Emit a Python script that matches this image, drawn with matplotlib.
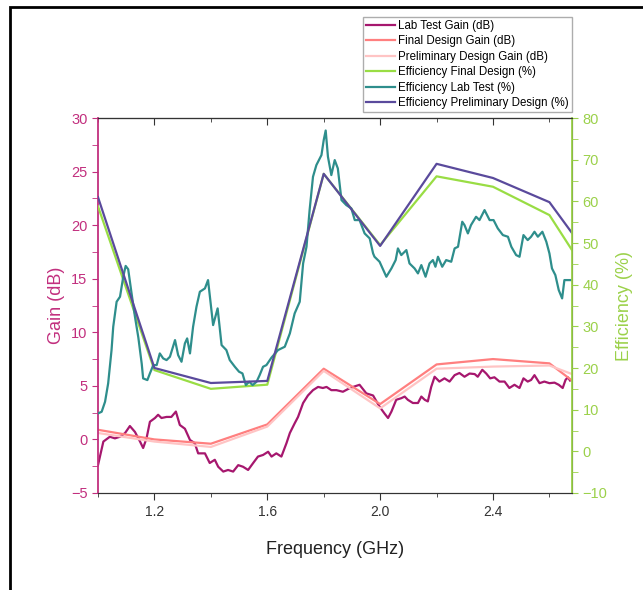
import matplotlib
matplotlib.use("Agg")
import matplotlib.pyplot as plt
from matplotlib.patches import Rectangle
from matplotlib.ticker import MultipleLocator

plt.rcParams['font.family'] = ['Liberation Sans', 'DejaVu Sans']

# Design frequencies (GHz)
design_freq = [1.0, 1.2, 1.4, 1.6, 1.8, 2.0, 2.2, 2.4, 2.6, 2.68]

final_gain = [0.9, 0.0, -0.4, 1.4, 6.6, 3.3, 7.0, 7.5, 7.1, 5.5]
prelim_gain = [0.6, -0.2, -0.7, 1.2, 6.4, 2.9, 6.6, 6.8, 6.9, 6.1]
eff_final = [58.8, 19.5, 15.0, 16.0, 66.6, 49.5, 66.0, 63.5, 56.7, 48.3]
eff_prelim = [61.0, 20.0, 16.4, 16.9, 66.6, 49.3, 69.0, 65.6, 59.8, 52.4]

# Measured gain
lab_gain_freq = [1.0, 1.019, 1.042, 1.06, 1.078, 1.096, 1.113, 1.131, 1.149, 1.16,
                 1.172, 1.184, 1.202, 1.213, 1.225, 1.243, 1.26, 1.276, 1.29, 1.308,
                 1.326, 1.343, 1.355, 1.379, 1.396, 1.414, 1.426, 1.444, 1.461, 1.479,
                 1.497, 1.514, 1.532, 1.55, 1.567, 1.585, 1.603, 1.615, 1.632, 1.65,
                 1.668, 1.68, 1.697, 1.709, 1.727, 1.744, 1.762, 1.78, 1.797, 1.81,
                 1.827, 1.845, 1.868, 1.886, 1.904, 1.927, 1.951, 1.975, 1.998, 2.016,
                 2.028, 2.04, 2.057, 2.075, 2.087, 2.098, 2.116, 2.134, 2.146, 2.158,
                 2.169, 2.181, 2.193, 2.21, 2.228, 2.246, 2.264, 2.281, 2.299, 2.317,
                 2.335, 2.346, 2.362, 2.376, 2.39, 2.405, 2.423, 2.441, 2.458, 2.476,
                 2.494, 2.508, 2.523, 2.535, 2.547, 2.565, 2.582, 2.6, 2.618, 2.633,
                 2.647, 2.657, 2.665, 2.673]
lab_gain = [-2.4, -0.2, 0.25, 0.1, 0.25, 0.6, 1.25, 0.7, -0.2, -0.8,
            0.1, 1.65, 2.0, 2.3, 2.0, 2.1, 2.1, 2.6, 1.35, 1.0,
            -0.05, -0.35, -1.3, -1.3, -2.2, -1.9, -2.55, -3.0, -2.85, -3.0,
            -2.4, -2.55, -2.85, -2.2, -1.6, -1.45, -1.15, -1.6, -1.3, -1.6,
            -0.35, 0.6, 1.5, 2.1, 3.4, 4.1, 4.6, 4.9, 4.8, 4.9,
            4.6, 4.6, 4.45, 4.7, 4.9, 5.1, 4.3, 4.1, 3.05, 2.4,
            2.0, 2.6, 3.7, 3.85, 4.0, 3.7, 3.4, 3.4, 4.0, 3.7,
            3.55, 4.9, 5.85, 5.4, 5.7, 5.4, 6.0, 6.2, 5.85, 6.15,
            6.1, 5.85, 6.5, 6.15, 5.7, 5.8, 5.4, 5.4, 4.8, 5.1,
            4.8, 5.7, 5.4, 5.55, 6.0, 5.25, 5.4, 5.25, 5.3, 5.1,
            4.8, 5.55, 5.8, 5.5]

# Measured efficiency
lab_eff_freq = [1.0, 1.013, 1.025, 1.036, 1.048, 1.054, 1.066, 1.078, 1.09, 1.098,
                1.107, 1.119, 1.131, 1.143, 1.155, 1.16, 1.175, 1.184, 1.196, 1.208,
                1.219, 1.231, 1.243, 1.255, 1.273, 1.284, 1.296, 1.308, 1.316, 1.326,
                1.337, 1.349, 1.361, 1.379, 1.39, 1.408, 1.424, 1.438, 1.455, 1.467,
                1.485, 1.5, 1.512, 1.524, 1.536, 1.548, 1.562, 1.573, 1.585, 1.597,
                1.615, 1.638, 1.662, 1.68, 1.697, 1.715, 1.727, 1.739, 1.75, 1.762,
                1.774, 1.792, 1.8, 1.807, 1.815, 1.827, 1.839, 1.85, 1.863, 1.88,
                1.898, 1.91, 1.927, 1.945, 1.963, 1.975, 1.98, 1.998, 2.022, 2.04,
                2.055, 2.063, 2.075, 2.093, 2.104, 2.122, 2.134, 2.146, 2.161, 2.175,
                2.187, 2.196, 2.205, 2.22, 2.234, 2.252, 2.264, 2.276, 2.291, 2.299,
                2.311, 2.322, 2.34, 2.352, 2.37, 2.388, 2.402, 2.417, 2.435, 2.453,
                2.465, 2.482, 2.494, 2.508, 2.523, 2.535, 2.547, 2.559, 2.575, 2.589,
                2.6, 2.609, 2.621, 2.633, 2.645, 2.653, 2.665, 2.676]
lab_eff = [9.1, 9.5, 11.9, 16.3, 24.3, 29.9, 35.9, 37.1, 42.1, 44.5,
           43.7, 37.9, 32.3, 27.3, 21.0, 17.5, 17.1, 18.7, 20.7, 20.7,
           23.5, 22.3, 21.9, 22.7, 26.7, 23.1, 21.5, 25.9, 27.1, 23.5,
           29.9, 34.7, 38.3, 39.1, 41.1, 30.3, 34.3, 25.5, 24.3, 21.9,
           20.3, 19.1, 18.7, 15.9, 16.7, 15.9, 16.7, 18.3, 20.3, 20.7,
           22.5, 24.3, 25.1, 28.3, 33.1, 35.9, 45.1, 49.1, 57.9, 65.9,
           68.7, 71.1, 74.7, 77.0, 70.7, 66.3, 69.9, 67.9, 60.3, 59.1,
           58.3, 55.5, 55.5, 52.3, 51.1, 47.5, 46.7, 45.5, 41.9, 43.9,
           45.9, 48.7, 47.1, 48.3, 45.1, 43.9, 42.7, 44.7, 41.9, 45.1,
           45.9, 44.3, 46.7, 44.3, 45.9, 45.5, 48.7, 49.1, 55.1, 54.3,
           52.3, 54.3, 56.3, 55.5, 57.9, 55.5, 55.5, 53.5, 51.9, 51.5,
           49.1, 47.1, 46.7, 51.9, 50.7, 51.5, 52.7, 51.5, 52.7, 50.3,
           47.5, 43.9, 42.3, 38.7, 36.7, 41.1, 41.1, 41.1]

freq_ticks = [1.2, 1.6, 2.0, 2.4]

gain_color = '#C22F7E'
eff_color = '#9BD14A'

fig = plt.figure(figsize=(6.43, 5.9), dpi=100)
fig.patches.append(Rectangle((10 / 643, -0.05), 1.1, 1.05 - 7 / 590,
                             transform=fig.transFigure, fill=False,
                             edgecolor='black', linewidth=2.0, zorder=0))

ax = fig.add_axes([98 / 643, 97 / 590, 474 / 643, 375 / 590])
ax2 = ax.twinx()

l1, = ax.plot(lab_gain_freq, lab_gain, color='#A6176E', lw=1.6,
              label='Lab Test Gain (dB)')
l2, = ax.plot(design_freq, final_gain, color='#FF7F7F', lw=1.6,
              label='Final Design Gain (dB)')
l3, = ax.plot(design_freq, prelim_gain, color='#FFC4C4', lw=1.6,
              label='Preliminary Design Gain (dB)')
l4, = ax2.plot(design_freq, eff_final, color='#99DD44', lw=1.6,
               label='Efficiency Final Design (%)')
l5, = ax2.plot(lab_eff_freq, lab_eff, color='#2E8E8C', lw=1.6,
               label='Efficiency Lab Test (%)')
l6, = ax2.plot(design_freq, eff_prelim, color='#5A4A9C', lw=1.6,
               label='Efficiency Preliminary Design (%)')

ax.set_xlim(1.0, 2.68)
ax.set_ylim(-5, 30)
ax2.set_ylim(-10, 80)

ax.set_xticks(freq_ticks)
ax.set_xticklabels([f'{t:.1f}' for t in freq_ticks])
ax.xaxis.set_minor_locator(MultipleLocator(0.2))
ax.yaxis.set_major_locator(MultipleLocator(5))
ax.yaxis.set_minor_locator(MultipleLocator(2.5))
ax2.yaxis.set_major_locator(MultipleLocator(10))
ax2.yaxis.set_minor_locator(MultipleLocator(5))

ax.tick_params(axis='x', which='both', direction='out', top=False,
               labelsize=10, colors='#333333')
ax.tick_params(axis='x', which='major', length=5)
ax.tick_params(axis='x', which='minor', length=3)

# inward ticks along the top edge
top = ax.secondary_xaxis('top')
top.set_xticks(freq_ticks)
top.xaxis.set_minor_locator(MultipleLocator(0.2))
top.tick_params(axis='x', which='both', direction='in', labeltop=False,
                colors='#333333')
top.tick_params(axis='x', which='major', length=5)
top.tick_params(axis='x', which='minor', length=3)
top.spines['top'].set_color('#333333')

ax.tick_params(axis='y', which='both', direction='out', colors=gain_color,
               labelsize=10.5, length=4)
ax2.tick_params(axis='y', which='both', direction='out', colors=eff_color,
                labelsize=10.5, length=4)

ax.spines['left'].set_color(gain_color)
ax.spines['left'].set_linewidth(1.3)
ax2.spines['left'].set_visible(False)
ax2.spines['right'].set_color(eff_color)
ax2.spines['right'].set_linewidth(1.3)
for sp in ('top', 'bottom'):
    ax.spines[sp].set_color('#333333')
    ax2.spines[sp].set_color('#333333')

ax.set_xlabel('Frequency (GHz)', fontsize=13, color='#222222', labelpad=16)
ax.set_ylabel('Gain (dB)', fontsize=13, color=gain_color, labelpad=4)
ax2.set_ylabel('Efficiency (%)', fontsize=13, color=eff_color, labelpad=6)

handles = [l1, l2, l3, l4, l5, l6]
fig.legend(handles, [h.get_label() for h in handles],
           loc='upper right', bbox_to_anchor=(572 / 643, 1 - 17 / 590),
           fontsize=8.3, frameon=True, fancybox=False, edgecolor='#999999',
           handlelength=2.5, handletextpad=0.3, labelspacing=0.3,
           borderpad=0.25, borderaxespad=0)

fig.savefig('out.png', dpi=100)
